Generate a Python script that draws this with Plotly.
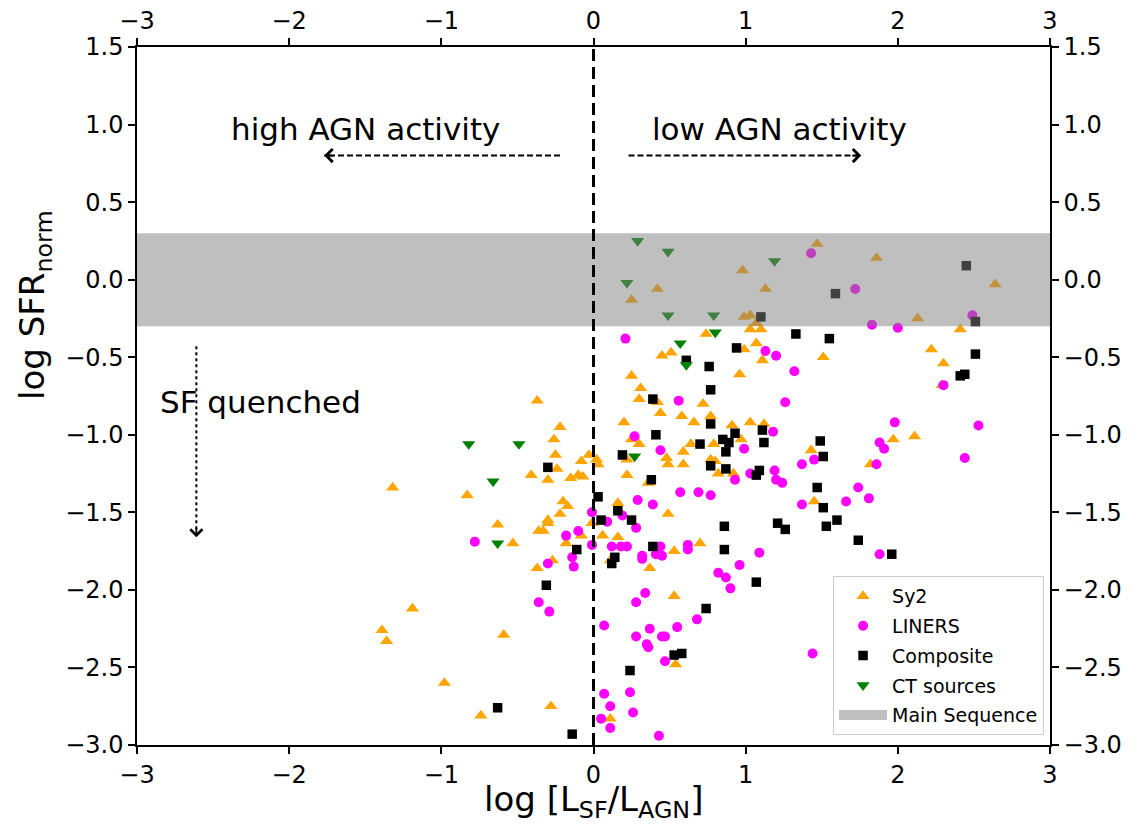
import plotly.graph_objects as go

# ---------------- data ----------------
sy2_x = [-0.37, -0.22, -0.26, -0.25, -0.24, -0.08, -0.03, -0.41, -0.30, -0.15, -0.10, -0.07,
         -1.32, -0.83, -0.20, -0.17, -0.22, -0.63, -0.30, -0.30, -0.36, -0.33, -0.08, -0.01,
         -0.53, -0.18, -0.27, -0.37, -1.19, -1.39, -1.36, -0.59, -0.98, -0.74, -0.28,
         1.47, 0.98, 0.42, 1.13, 0.25, 0.99, 1.03, 1.86, 2.64, 2.13,
         1.03, 1.10, 1.07, 0.74, 2.41, 0.45, 0.51, 0.99, 1.07, 1.11, 0.96, 0.25, 0.31, 0.30,
         0.42, 0.72, 0.44, 0.58, 0.77, 0.20, 0.66, 1.03, 0.91, 1.12, 0.25, 0.30, 0.64, 0.79,
         0.97, 0.59, 1.43, 0.02, 0.03, 0.22, 0.48, 0.49, 0.59, 0.77, 0.80, 0.82, 0.92,
         0.22, 0.36, 1.51, 2.22, 2.30, 2.29, 1.97, 2.11, 1.82, 0.16, 0.49, 0.06, 0.16, 1.45,
         0.11, 0.37, 0.53, 0.70, 0.53, 0.54, 0.11]
sy2_y = [-0.78, -0.95, -1.03, -1.13, -1.22, -1.17, -1.13, -1.26, -1.29, -1.28, -1.26, -1.27,
         -1.34, -1.39, -1.43, -1.46, -1.51, -1.58, -1.55, -1.57, -1.62, -1.62, -1.65, -1.57,
         -1.70, -1.70, -1.81, -1.86, -2.12, -2.26, -2.33, -2.29, -2.60, -2.81, -2.75,
         0.23, 0.06, -0.06, -0.06, -0.13, -0.24, -0.23, 0.14, -0.03, -0.25,
         -0.32, -0.32, -0.28, -0.35, -0.32, -0.49, -0.47, -0.45, -0.41, -0.52, -0.61, -0.62, -0.70, -0.77,
         -0.79, -0.80, -0.86, -0.88, -0.88, -0.92, -0.92, -0.92, -0.94, -0.93, -1.03, -1.06, -1.06, -1.06,
         -1.03, -1.11, -1.10, -1.16, -1.19, -1.16, -1.15, -1.19, -1.19, -1.16, -1.17, -1.25, -1.25,
         -1.26, -1.31, -0.50, -0.45, -0.54, -0.68, -1.03, -1.01, -1.19, -1.44, -1.51, -1.65, -1.66, -1.43,
         -1.81, -1.86, -1.75, -1.70, -2.04, -2.48, -2.83]

liner_x = [-0.01, -0.18, -0.10, -0.78, -0.01, -0.14, -0.13, -0.30, -0.36, -0.29,
           1.43, 1.72, 2.49, 1.83, 2.00, 0.21, 1.13, 1.20, 1.32, 0.56, 1.26, 1.18, 0.27, 0.99,
           0.44, 1.37, 1.45, 1.19, 1.03, 0.93, 1.20, 1.24, 2.30, 1.98, 2.53, 1.88, 1.91, 2.44,
           1.86, 1.74, 0.57, 0.69, 0.77, 0.29, 0.39, 0.19, 0.09, 0.28, 0.12, 0.18, 0.22, 0.44,
           0.41, 0.45, 0.32, 0.32, 0.62, 0.62, 1.37, 1.09, 0.96, 0.82, 0.87, 0.90, 0.34, 0.28,
           0.68, 0.07, 0.37, 0.55, 0.28, 0.45, 0.47, 0.35, 0.36, 0.47, 0.07, 0.24, 0.11, 0.26,
           0.05, 0.11, 0.43, 1.44, 1.66, 1.81, 1.88]
liner_y = [-1.50, -1.65, -1.62, -1.69, -1.71, -1.79, -1.85, -1.83, -2.08, -2.14,
           0.17, -0.06, -0.23, -0.29, -0.31, -0.38, -0.46, -0.49, -0.59, -0.78, -0.79, -0.98, -1.01, -1.09,
           -1.10, -1.19, -1.16, -1.23, -1.25, -1.29, -1.29, -1.31, -0.68, -0.92, -0.94, -1.05, -1.09, -1.15,
           -1.19, -1.34, -1.37, -1.37, -1.39, -1.42, -1.45, -1.52, -1.56, -1.60, -1.72, -1.72, -1.72, -1.72,
           -1.77, -1.78, -1.78, -1.80, -1.71, -1.74, -1.45, -1.76, -1.84, -1.89, -1.92, -1.99, -2.02, -2.08,
           -2.19, -2.23, -2.25, -2.24, -2.30, -2.30, -2.30, -2.35, -2.37, -2.46, -2.67, -2.66, -2.75, -2.79,
           -2.83, -2.89, -2.94, -2.41, -1.43, -1.41, -1.77]

comp_x = [-0.30, -0.11, -0.31, -0.63, -0.14,
          1.10, 2.45, 1.59, 2.51, 1.33, 0.94, 0.61, 0.76, 0.77, 0.39, 0.77, 1.11, 0.93, 0.41,
          0.70, 0.85, 0.89, 1.12, 0.87, 0.19, 0.77, 0.87, 1.09, 1.07, 0.38, 1.49, 1.55, 2.51,
          2.41, 2.44, 1.51, 1.47, 0.03, 0.16, 0.05, 0.25, 0.39, 0.86, 0.86, 1.21, 1.26, 1.07,
          0.14, 0.12, 0.74, 0.53, 0.58, 0.24, 1.51, 1.60, 1.53, 1.74, 1.96]
comp_y = [-1.21, -1.74, -1.97, -2.76, -2.93,
          -0.24, 0.09, -0.09, -0.27, -0.35, -0.44, -0.52, -0.56, -0.71, -0.77, -0.93, -0.97, -0.99, -1.00,
          -1.06, -1.03, -1.05, -1.05, -1.11, -1.13, -1.20, -1.22, -1.23, -1.26, -1.29, -1.04, -0.38, -0.48,
          -0.62, -0.61, -1.14, -1.34, -1.40, -1.49, -1.55, -1.55, -1.72, -1.59, -1.74, -1.57, -1.61, -1.95,
          -1.79, -1.83, -2.12, -2.42, -2.41, -2.52, -1.47, -1.55, -1.59, -1.68, -1.77]

ct_x = [-0.82, -0.49, -0.66, -0.63, 0.29, 0.49, 1.19, 0.22, 0.49, 0.79, 0.80, 0.57, 0.61, 0.27]
ct_y = [-1.06, -1.06, -1.30, -1.70, 0.25, 0.18, 0.12, -0.02, -0.23, -0.23, -0.34, -0.41, -0.55, -1.14]

ms_low, ms_high = -0.3, 0.3          # main-sequence band
x_range = [-3, 3]
y_range = [-3, 1.5]

FONT = "DejaVu Sans"

fig = go.Figure()

def add(xs, ys, name, symbol, color, size, grp):
    fig.add_trace(go.Scatter(
        x=xs, y=ys, mode="markers", name=name, legendgroup=grp,
        marker=dict(symbol=symbol, color=color, size=size, line=dict(width=0)),
    ))

add(sy2_x, sy2_y, "Sy2", "triangle-up", "orange", 11.5, "a")
add(liner_x, liner_y, "LINERS", "circle", "magenta", 10, "b")
add(comp_x, comp_y, "Composite", "square", "black", 9.5, "c")
add(ct_x, ct_y, "CT sources", "triangle-down", "green", 11.5, "d")

# legend entry for the band
fig.add_trace(go.Scatter(
    x=[None], y=[None], mode="lines", name="Main Sequence",
    line=dict(width=16, color="#bfbfbf"), legendgroup="e",
))

# dummy trace to activate top/right axes
fig.add_trace(go.Scatter(
    x=[x_range[0]], y=[y_range[0]], xaxis="x2", yaxis="y2", mode="markers",
    marker=dict(opacity=0), showlegend=False, hoverinfo="skip",
))

# main-sequence band (drawn above points, semi-transparent)
fig.add_shape(type="rect", xref="x domain", yref="y", x0=0, x1=1, y0=ms_low, y1=ms_high,
              fillcolor="gray", opacity=0.5, line=dict(width=0), layer="above")

# vertical dashed line at x = 0
fig.add_shape(type="line", xref="x", yref="y domain", x0=0, x1=0, y0=0, y1=1,
              line=dict(color="black", width=3, dash="12px,6px"), layer="above")

# horizontal dashed arrows
arrow_y = 0.80
for x_tail, x_head in [(-0.22, -1.77), (0.23, 1.76)]:
    fig.add_shape(type="line", xref="x", yref="y", x0=x_tail, x1=x_head, y0=arrow_y, y1=arrow_y,
                  line=dict(color="black", width=2, dash="6px,3px"), layer="above")
    sgn = 1 if x_head > x_tail else -1
    fig.add_annotation(x=x_head, y=arrow_y, ax=x_head - sgn * 0.07, ay=arrow_y,
                       xref="x", yref="y", axref="x", ayref="y", text="",
                       showarrow=True, arrowhead=4, arrowsize=1.4, arrowwidth=1.8, arrowcolor="black")

# vertical dotted arrow
fig.add_shape(type="line", xref="x", yref="y", x0=-2.61, x1=-2.61, y0=-0.43, y1=-1.62,
              line=dict(color="black", width=2, dash="dot"), layer="above")
fig.add_annotation(x=-2.61, y=-1.66, ax=-2.61, ay=-1.59, xref="x", yref="y", axref="x", ayref="y",
                   text="", showarrow=True, arrowhead=4, arrowsize=1.3, arrowwidth=1.8, arrowcolor="black")

# texts
fig.add_annotation(x=-1.50, y=0.97, xref="x", yref="y", text="high AGN activity", showarrow=False,
                   font=dict(size=31, family=FONT, color="black"))
fig.add_annotation(x=1.22, y=0.97, xref="x", yref="y", text="low AGN activity", showarrow=False,
                   font=dict(size=31, family=FONT, color="black"))
fig.add_annotation(x=-2.86, y=-0.79, xref="x", yref="y", text="SF quenched", showarrow=False,
                   xanchor="left", font=dict(size=31, family=FONT, color="black"))

# axis titles
fig.add_annotation(x=0.5, y=-0.081, xref="paper", yref="paper", showarrow=False,
                   text="log [L<sub>SF</sub>/L<sub>AGN</sub>]", yanchor="middle",
                   font=dict(size=34, family=FONT, color="black"))
fig.add_annotation(x=-0.112, y=0.63, xref="paper", yref="paper", showarrow=False,
                   text="log SFR<sub>norm</sub>", textangle=-90, xanchor="center", yanchor="middle",
                   font=dict(size=34, family=FONT, color="black"))

axis_common = dict(
    showgrid=False, zeroline=False, showline=True, linecolor="black", linewidth=1.5,
    ticks="outside", ticklen=7, tickwidth=1.5, tickcolor="black", automargin=False,
    tickfont=dict(size=24, family=FONT, color="black"),
)

# page has an 8px body margin, so the figure is laid out 8px up/left of the target
fig.update_layout(
    width=1140, height=825,
    margin=dict(l=129, r=98, t=39, b=88),
    plot_bgcolor="white", paper_bgcolor="white",
    font=dict(family=FONT, color="black"),
    xaxis=dict(range=x_range, dtick=1, tick0=0, **axis_common),
    yaxis=dict(range=y_range, dtick=0.5, tick0=0, tickformat=".1f", **axis_common),
    xaxis2=dict(range=x_range, dtick=1, tick0=0, overlaying="x", side="top", **axis_common),
    yaxis2=dict(range=y_range, dtick=0.5, tick0=0, tickformat=".1f", overlaying="y", side="right",
                **axis_common),
    legend=dict(x=0.9935, y=0.014, xanchor="right", yanchor="bottom",
                bordercolor="#cccccc", borderwidth=1, bgcolor="rgba(255,255,255,0.8)",
                font=dict(size=19, family=FONT, color="black"), tracegroupgap=2,
                traceorder="grouped", itemwidth=48),
    showlegend=True,
)

fig.write_html("out.html")
